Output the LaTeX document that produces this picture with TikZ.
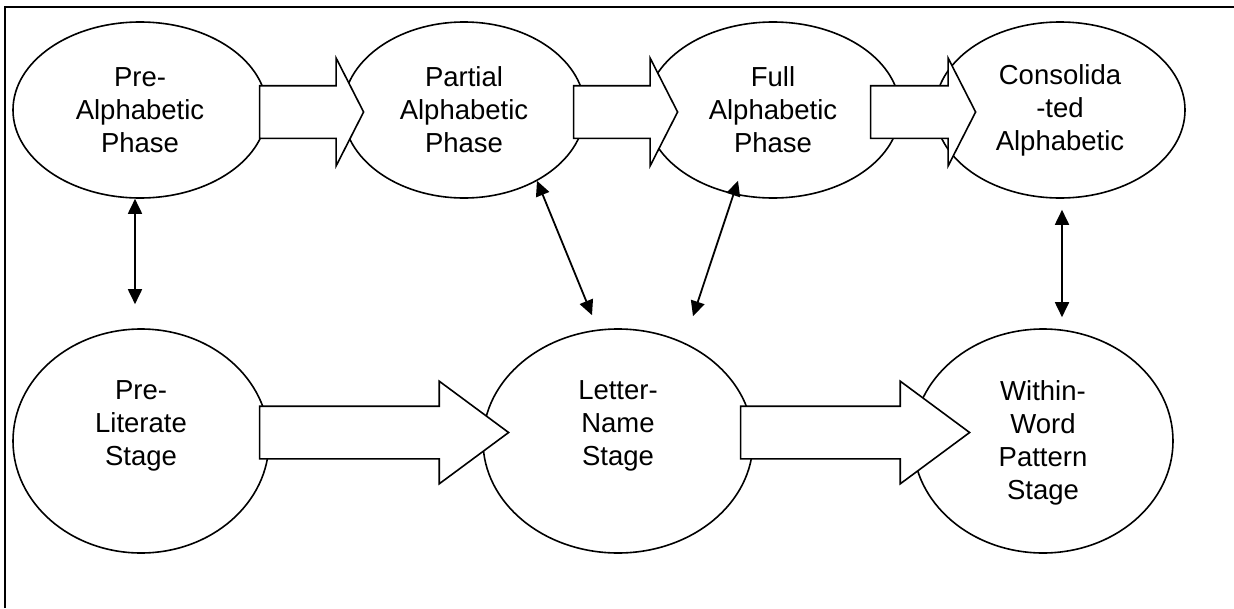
\documentclass[tikz,border=0pt]{standalone}
\usepackage{fontspec}
\setmainfont{Liberation Sans}
\usepackage{tikz}
\usetikzlibrary{shapes.geometric, shapes.arrows, arrows.meta, calc}

\begin{document}
\begin{tikzpicture}[
  x=1pt, y=-1pt,
  phase/.style={ellipse, draw, line width=1.6pt, fill=white, inner sep=0pt,
                font=\fontsize{27.5}{33}\selectfont, align=center},
  words/.style={inner sep=0pt, anchor=north,
                font=\fontsize{27.5}{33}\selectfont, align=center},
  fatarrow/.style={single arrow, draw, line width=1.6pt, fill=white,
                   inner xsep=0pt, inner ysep=25.5pt, anchor=tail},
  shortarrow/.style={fatarrow, single arrow head extend=27.5pt,
                     single arrow tip angle=126},
  longarrow/.style={fatarrow, single arrow head extend=25pt,
                    single arrow tip angle=73},
  link/.style={{Triangle[length=15pt,width=14pt]}-{Triangle[length=15pt,width=14pt]},
               line width=1.8pt},
]
  \useasboundingbox (0,0) rectangle (1234,608);
  \draw[line width=2.7pt] (5,608) -- (5,7) -- (1234,7);

  % phases (top row)
  \node[phase, minimum width=254pt, minimum height=176pt] (prealph) at (140,110) {Pre-\\Alphabetic\\Phase};
  \node[phase, minimum width=242pt, minimum height=176pt] (partial) at (464,110) {Partial\\Alphabetic\\Phase};
  \node[phase, minimum width=254pt, minimum height=176pt] (full) at (773,110) {Full\\Alphabetic\\Phase};
  \node[phase, minimum width=250pt, minimum height=176pt] (consol) at (1060,110) {Consolida\\-ted\\Alphabetic};

  % stages (bottom row)
  \node[phase, minimum width=256pt, minimum height=224pt] (prelit) at (141,441) {};
  \node[phase, minimum width=270pt, minimum height=224pt] (letter) at (618,441) {};
  \node[phase, minimum width=260pt, minimum height=224pt] (within) at (1043,441) {};
  \node[words] (prelitT) at ($(prelit.center)+(0,-61)$) {Pre-\\Literate\\Stage};
  \node[words] (letterT) at ($(letter.center)+(0,-61)$) {Letter-\\Name\\Stage};
  \node[words] (withinT) at ($(within.center)+(0,-61)$) {Within-\\Word\\Pattern\\Stage};

  \path ($(prealph.east)+(-9,2)$) -- node[shortarrow, at start, minimum height=104pt] (pa1) {} ($(partial.west)+(19,2)$);
  \path ($(partial.east)+(-13,2)$) -- node[shortarrow, at start, minimum height=104pt] (pa2) {} ($(full.west)+(30,2)$);
  \path ($(full.east)+(-31,2)$) -- node[shortarrow, at start, minimum height=105pt] (pa3) {} ($(consol.west)+(39,2)$);
  \path ($(prelit.east)+(-11,-8.5)$) -- node[longarrow, at start, minimum height=249pt] (st1) {} ($(letter.west)+(24,-8.5)$);
  \path ($(letter.east)+(-14,-8.5)$) -- node[longarrow, at start, minimum height=229pt] (st2) {} ($(within.west)+(55,-8.5)$);

  \draw[link] ($(prealph.south)+(-5,0)$) -- ($(prelit.north)+(-6,-24)$);
  \draw[link] ($(partial.south)+(73,-18)$) -- ($(letter.north)+(-26,-13)$);
  \draw[link] ($(full.south)+(-35,-18)$) -- ($(letter.north)+(75,-12)$);
  \draw[link] ($(consol.south)+(2,11)$) -- ($(within.north)+(19,-11)$);
\end{tikzpicture}
\end{document}
